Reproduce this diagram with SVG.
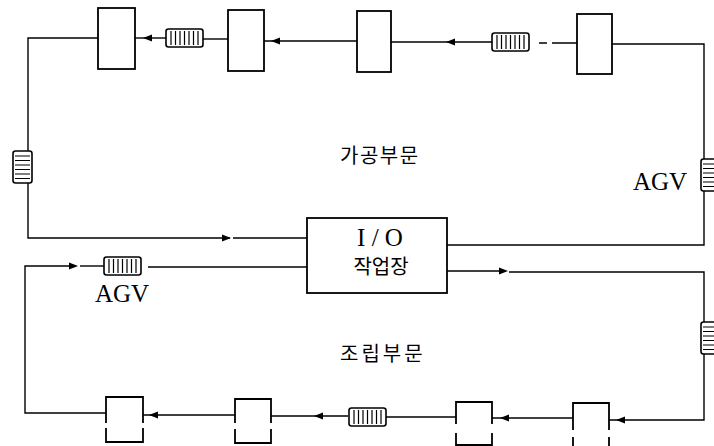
<svg xmlns="http://www.w3.org/2000/svg" xmlns:xlink="http://www.w3.org/1999/xlink" width="714" height="446" viewBox="0 0 714 446">
<style>
.bx{fill:#fff;stroke:#000;stroke-width:1.8}
.bo{fill:none;stroke:#000;stroke-width:1.8}
.ln{fill:none;stroke:#000;stroke-width:1.4}
.q{fill:#fff;stroke:#000;stroke-width:1.6}
.qs{stroke:#000;stroke-width:1.2}
.ah{fill:#000}
.kr{font-family:"Noto Sans CJK KR","Noto Sans",sans-serif;font-size:20px;fill:#000}
.en{font-family:"Liberation Serif",serif;font-size:25px;fill:#000}
</style>
<defs>
<path id="ah" class="ah" d="M0,0 L-9,-3.5 L-9,3.5 Z"/>
<g id="qh">
<rect class="q" x="0" y="0" width="37" height="18" rx="2.5"/>
<path class="qs" d="M5,2V16M9.5,2V16M14,2V16M18.5,2V16M23,2V16M27.5,2V16M32,2V16"/>
</g>
<g id="qv">
<rect class="q" x="0" y="0" width="19" height="32" rx="2.5"/>
<path class="qs" d="M2,5H17M2,9.5H17M2,14H17M2,18.5H17M2,23H17M2,27.5H17"/>
</g>
</defs>

<g id="connectors">
<path class="ln" d="M612,44 H704 V245 H447"/>
<path class="ln" d="M577,43 H552 M547,43 H539"/>
<path class="ln" d="M492,42 H391"/>
<use xlink:href="#ah" transform="translate(446,42) rotate(180)"/>
<path class="ln" d="M357,41 H264"/>
<use xlink:href="#ah" transform="translate(271,41) rotate(180)"/>
<path class="ln" d="M228,39 H203"/>
<path class="ln" d="M166,38 H135"/>
<use xlink:href="#ah" transform="translate(143,38) rotate(180)"/>
<path class="ln" d="M98,38 H28 V238 H230 M233,238 H307"/>
<use xlink:href="#ah" transform="translate(231,238)"/>
<path class="ln" d="M307,267 H148"/>
<path class="ln" d="M104,266 H80"/>
<use xlink:href="#ah" transform="translate(78,266)"/>
<path class="ln" d="M72,266 H25 V413 H106"/>
<path class="ln" d="M447,271 H505 M509,272 H704 V420 H609"/>
<use xlink:href="#ah" transform="translate(508,271)"/>
<use xlink:href="#ah" transform="translate(616,420) rotate(180)"/>
<path class="ln" d="M573,418 H492"/>
<use xlink:href="#ah" transform="translate(500,418) rotate(180)"/>
<path class="ln" d="M456,417 H386"/>
<path class="ln" d="M348,416 H271"/>
<use xlink:href="#ah" transform="translate(314,416) rotate(180)"/>
<path class="ln" d="M235,415 H143"/>
<use xlink:href="#ah" transform="translate(149,415) rotate(180)"/>
</g>

<g id="agv-queues">
<use xlink:href="#qh" transform="translate(166,29)"/>
<use xlink:href="#qh" transform="translate(492,33)"/>
<use xlink:href="#qh" transform="translate(104,257)"/>
<use xlink:href="#qh" transform="translate(349,408)"/>
<use xlink:href="#qv" transform="translate(13,151)"/>
<use xlink:href="#qv" transform="translate(701,159)"/>
<use xlink:href="#qv" transform="translate(701,322)"/>
</g>

<g id="m1"><rect class="bx" x="98" y="8" width="37" height="61"/></g>
<g id="m2"><rect class="bx" x="228" y="10" width="36" height="61"/></g>
<g id="m3"><rect class="bx" x="357" y="11" width="34" height="61"/></g>
<g id="m4"><rect class="bx" x="577" y="14" width="35" height="60"/></g>

<g id="io">
<rect class="bx" x="307" y="218" width="140" height="75"/>
<text class="en" x="380" y="246" text-anchor="middle" font-size="24">I / O</text>
<text class="kr" x="381" y="274" text-anchor="middle" font-size="21">작업장</text>
</g>

<g id="a1"><path class="bo" d="M106,423 V397 H143 V423 M106,428 V442 H143 V428"/></g>
<g id="a2"><path class="bo" d="M235,423 V399 H271 V423 M235,429 V443 H271 V429"/></g>
<g id="a3"><path class="bo" d="M456,424 V402 H492 V424 M456,433 V445 H492 V433"/></g>
<g id="a4"><path class="bo" d="M573,430 V403 H609 V430 M573,437 V446 M609,437 V446"/></g>

<g id="labels">
<text class="kr" x="340" y="163" letter-spacing="1.5">가공부문</text>
<text class="kr" x="340" y="361" letter-spacing="3">조립부문</text>
<text class="en" x="633" y="190">AGV</text>
<text class="en" x="95" y="302">AGV</text>
</g>
</svg>
